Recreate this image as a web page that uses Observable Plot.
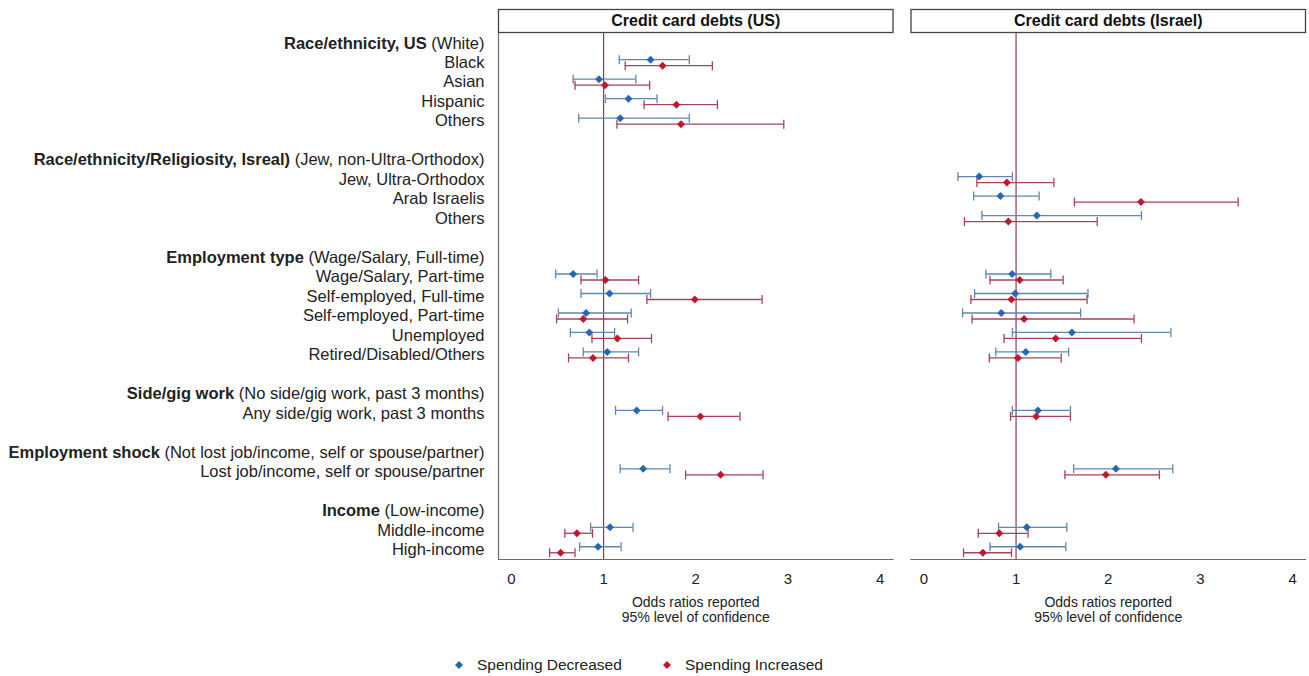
<!DOCTYPE html>
<html>
<head>
<meta charset="utf-8">
<script src="https://cdn.jsdelivr.net/npm/d3@7"></script>
<script src="https://cdn.jsdelivr.net/npm/@observablehq/plot@0.6"></script>
<style>
  body { margin: 0; background: white; font-family: "Liberation Sans", Arial, sans-serif; }
  #legend { position: relative; height: 36px; width: 1309px; font-size: 15.5px; color: #222; }
  .item { position: absolute; top: 16px; display: flex; align-items: center; height: 18px; }
  .item svg { margin-right: 13px; }
</style>
</head>
<body>
<div id="chart"></div>
<div id="legend"></div>
<script>
const panels = ["Credit card debts (US)", "Credit card debts (Israel)"];
const series = ["Spending Decreased", "Spending Increased"];
const pointColors = ["#2467b2", "#c0172f"];
const barColors = ["#6187b1", "#a54459"];
const refColor = "#8e3b52";
const xDomain = [-0.14, 4.14];
const xTicks = [0, 1, 2, 3, 4];
const axisTitle = "Odds ratios reported\n95% level of confidence";

const rowBold = [
  "Race/ethnicity, US", "", "", "", "", "",
  "Race/ethnicity/Religiosity, Isreal)", "", "", "", "",
  "Employment type", "", "", "", "", "", "",
  "Side/gig work", "", "",
  "Employment shock", "", "",
  "Income", "", ""
];
const rowLabels = [
  "(White)", "Black", "Asian", "Hispanic", "Others", "",
  "(Jew, non-Ultra-Orthodox)", "Jew, Ultra-Orthodox", "Arab Israelis", "Others", "",
  "(Wage/Salary, Full-time)", "Wage/Salary, Part-time", "Self-employed, Full-time", "Self-employed, Part-time", "Unemployed", "Retired/Disabled/Others", "",
  "(No side/gig work, past 3 months)", "Any side/gig work, past 3 months", "",
  "(Not lost job/income, self or spouse/partner)", "Lost job/income, self or spouse/partner", "",
  "(Low-income)", "Middle-income", "High-income"
];

// US panel rows (index into rowLabels)
const usRows = [1, 2, 3, 4, 12, 13, 14, 15, 16, 19, 22, 25, 26];
const usDecOR = [1.51, 0.95, 1.27, 1.18, 0.67, 1.065, 0.81, 0.845, 1.04, 1.36, 1.43, 1.07, 0.94];
const usDecLo = [1.17, 0.67, 1.02, 0.73, 0.48, 0.755, 0.51, 0.64, 0.78, 1.13, 1.18, 0.86, 0.74];
const usDecHi = [1.93, 1.35, 1.58, 1.93, 0.93, 1.51, 1.30, 1.12, 1.38, 1.64, 1.72, 1.32, 1.19];
const usIncOR = [1.64, 1.015, 1.79, 1.84, 1.02, 1.99, 0.78, 1.15, 0.885, 2.05, 2.27, 0.71, 0.534];
const usIncLo = [1.235, 0.69, 1.44, 1.145, 0.755, 1.47, 0.49, 0.874, 0.62, 1.70, 1.89, 0.58, 0.415];
const usIncHi = [2.18, 1.50, 2.235, 2.955, 1.38, 2.72, 1.26, 1.52, 1.27, 2.48, 2.73, 0.88, 0.69];

// Israel panel rows
const ilRows = [7, 8, 9, 12, 13, 14, 15, 16, 19, 22, 25, 26];
const ilDecOR = [0.60, 0.83, 1.225, 0.957, 0.99, 0.84, 1.606, 1.105, 1.237, 2.083, 1.116, 1.044];
const ilDecLo = [0.37, 0.54, 0.63, 0.673, 0.55, 0.42, 0.96, 0.78, 0.96, 1.625, 0.81, 0.717];
const ilDecHi = [0.96, 1.25, 2.36, 1.377, 1.78, 1.70, 2.68, 1.57, 1.59, 2.70, 1.55, 1.54];
const ilIncOR = [0.90, 2.355, 0.916, 1.04, 0.95, 1.087, 1.43, 1.02, 1.218, 1.974, 0.818, 0.64];
const ilIncLo = [0.575, 1.633, 0.44, 0.717, 0.51, 0.523, 0.87, 0.71, 0.94, 1.53, 0.59, 0.43];
const ilIncHi = [1.41, 3.41, 1.88, 1.51, 1.77, 2.28, 2.36, 1.49, 1.59, 2.555, 1.13, 0.95];

const rowIds = rowLabels.map((_, i) => "r" + i);
const fullLabel = i => rowBold[i] ? rowBold[i] + " " + rowLabels[i] : rowLabels[i];

function build(panel, rows, sIdx, or, lo, hi) {
  return rows.map((r, i) => ({panel, series: series[sIdx], row: "r" + r, or: or[i], lo: lo[i], hi: hi[i]}));
}
const data = [
  ...build(panels[0], usRows, 0, usDecOR, usDecLo, usDecHi),
  ...build(panels[0], usRows, 1, usIncOR, usIncLo, usIncHi),
  ...build(panels[1], ilRows, 0, ilDecOR, ilDecLo, ilDecHi),
  ...build(panels[1], ilRows, 1, ilIncOR, ilIncLo, ilIncHi)
];

const capSymbol = {
  draw(ctx, size) {
    const r = Math.sqrt(size / Math.PI);
    ctx.moveTo(0, -r);
    ctx.lineTo(0, r);
  }
};

const offsets = [-3, 3];
const seriesMarks = series.flatMap((s, k) => {
  const d = data.filter(e => e.series === s);
  return [
    Plot.ruleY(d, {fx: "panel", y: "row", x1: "lo", x2: "hi", dy: offsets[k], stroke: barColors[k], strokeWidth: 1.3}),
    Plot.dot(d, {fx: "panel", y: "row", x: "lo", dy: offsets[k], symbol: capSymbol, r: 4.5, fill: "none", stroke: barColors[k], strokeWidth: 1.3}),
    Plot.dot(d, {fx: "panel", y: "row", x: "hi", dy: offsets[k], symbol: capSymbol, r: 4.5, fill: "none", stroke: barColors[k], strokeWidth: 1.3}),
    Plot.dot(d, {fx: "panel", y: "row", x: "or", dy: offsets[k], symbol: "diamond2", r: 3.6, fill: pointColors[k], stroke: "none"})
  ];
});

const H = 640, MT = 33, MB = 81;
const chart = Plot.plot({
  width: 1309,
  height: H,
  marginTop: MT,
  marginBottom: MB,
  marginLeft: 498,
  marginRight: 4,
  style: {fontFamily: "'Liberation Sans', Arial, sans-serif", background: "white", color: "#222"},
  fx: {domain: panels, paddingInner: 0.0436, paddingOuter: 0, round: false, axis: null},
  x: {domain: xDomain},
  y: {type: "point", domain: rowIds, padding: 0.5, round: false},
  marks: [
    Plot.frame({insetTop: -24, insetBottom: H - MT - MB + 1, stroke: "#444", strokeWidth: 1.3}),
    Plot.text(panels, {fx: d => d, text: d => d, frameAnchor: "top", dy: -12.5, lineAnchor: "middle", fontSize: 16, fontWeight: "bold", fill: "#111"}),
    Plot.frame({anchor: "bottom", stroke: "#6b6b6b", strokeWidth: 1.2}),
    Plot.ruleX([{panel: panels[0], x: xDomain[0]}], {x: "x", fx: "panel", stroke: "#6b6b6b", strokeWidth: 1.2}),
    Plot.ruleX([1], {stroke: refColor, strokeWidth: 1.2}),
    ...seriesMarks,
    Plot.axisX({ticks: xTicks, tickFormat: d => String(d), tickSize: 0, tickPadding: 14, fontSize: 15, label: null, fill: "#222"}),
    Plot.text([axisTitle], {text: d => d, frameAnchor: "bottom", lineAnchor: "top", dy: 37.5, fontSize: 14, lineHeight: 1.03, fill: "#222"}),
    Plot.axisY({tickSize: 0, tickPadding: 14, fontSize: 16.5, tickFormat: id => fullLabel(+id.slice(1)), label: null, fill: "#222"})
  ]
});
document.getElementById("chart").appendChild(chart);

// render the bold part of group header labels
const NS = "http://www.w3.org/2000/svg";
const headerMap = new Map(rowBold.map((b, i) => [fullLabel(i), i]).filter(([, i]) => rowBold[i]));
chart.querySelectorAll('[aria-label="y-axis tick label"] text').forEach(t => {
  const i = headerMap.get(t.textContent);
  if (i === undefined) return;
  t.textContent = "";
  const b = document.createElementNS(NS, "tspan");
  b.setAttribute("font-weight", "bold");
  b.textContent = rowBold[i];
  const n = document.createElementNS(NS, "tspan");
  n.textContent = " " + rowLabels[i];
  t.appendChild(b);
  t.appendChild(n);
});

// legend
const legend = document.getElementById("legend");
const legendLeft = [454, 662];
series.forEach((s, k) => {
  const item = document.createElement("div");
  item.className = "item";
  item.style.left = legendLeft[k] + "px";
  item.innerHTML = `<svg width="10" height="10" viewBox="-5 -5 10 10"><path d="M0,-4L4,0L0,4L-4,0Z" fill="${pointColors[k]}"/></svg><span>${s}</span>`;
  legend.appendChild(item);
});
</script>
</body>
</html>
